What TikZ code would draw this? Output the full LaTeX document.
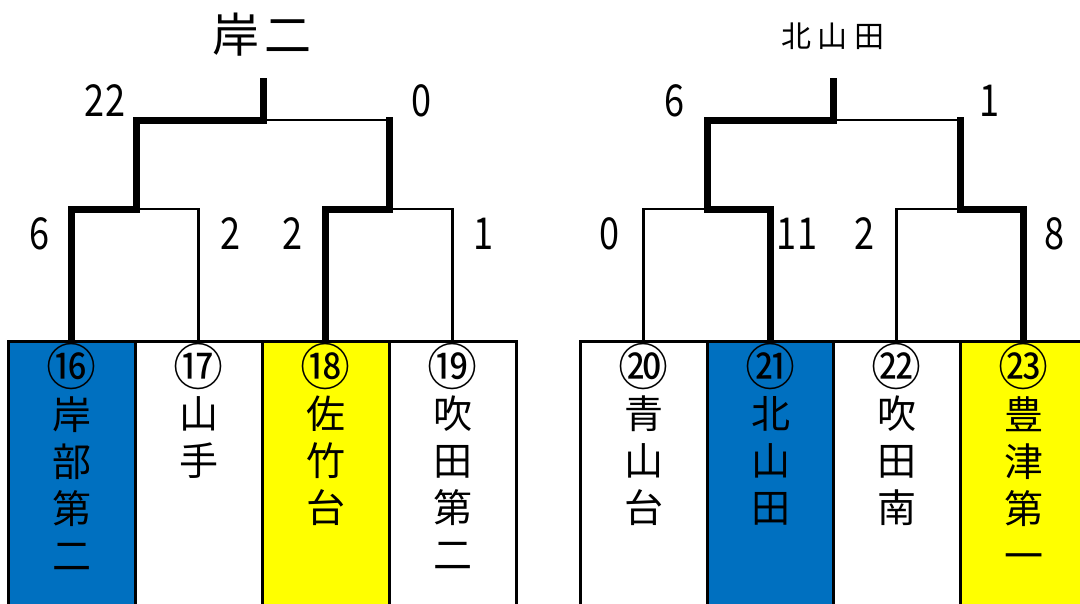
\documentclass[tikz,border=0pt]{standalone}
\usepackage{fontspec}
\usepackage{graphicx}
\setmainfont{Noto Sans CJK JP}
\definecolor{kblue}{RGB}{0,112,192}
\definecolor{kyel}{RGB}{255,255,0}
\newcommand{\sqz}[1]{\scalebox{0.82}[1]{#1}}
\begin{document}
\begin{tikzpicture}[x=1pt,y=-1pt,
  team/.style={draw=black, line width=3pt, minimum width=127pt, minimum height=280pt, anchor=north west, inner sep=0pt, outer sep=0pt},
  teamtxt/.style={anchor=north, align=center, inner sep=0pt, font=\fontsize{39}{47}\selectfont},
  circnum/.style={inner sep=0pt, font=\fontsize{50}{50}\selectfont},
  score/.style={inner sep=0pt, font=\fontsize{44}{44}\selectfont},
  win/.style={line width=7pt},
  lose/.style={line width=2.2pt},
]
\useasboundingbox (0,0) rectangle (1080,603);
\fill[white] (0,0) rectangle (1080,603);

% ---------- boxes ----------
\node[team, fill=kblue] (b16) at (8,341) {};
\node[team, fill=white] (b17) at (135,341) {};
\node[team, fill=kyel]  (b18) at (262,341) {};
\node[team, fill=white] (b19) at (389,341) {};
\node[team, fill=white] (b20) at (580,341) {};
\node[team, fill=kblue] (b21) at (707,341) {};
\node[team, fill=white] (b22) at (833,341) {};
\node[team, fill=kyel]  (b23) at (960,341) {};

% ---------- entry numbers ----------
\node[circnum] (c16) at ([yshift=-25pt]b16.north) {⑯};
\node[circnum] (c17) at ([yshift=-25pt]b17.north) {⑰};
\node[circnum] (c18) at ([yshift=-25pt]b18.north) {⑱};
\node[circnum] (c19) at ([yshift=-25pt]b19.north) {⑲};
\node[circnum] (c20) at ([yshift=-25pt]b20.north) {⑳};
\node[circnum] (c21) at ([yshift=-25pt]b21.north) {㉑};
\node[circnum] (c22) at ([yshift=-25pt]b22.north) {㉒};
\node[circnum] (c23) at ([yshift=-25pt]b23.north) {㉓};

% ---------- team names ----------
\node[teamtxt] (t16) at ([yshift=-55pt]b16.north) {岸\\部\\第\\二};
\node[teamtxt] (t17) at ([yshift=-55pt]b17.north) {山\\手};
\node[teamtxt] (t18) at ([yshift=-55pt]b18.north) {佐\\竹\\台};
\node[teamtxt] (t19) at ([yshift=-55pt]b19.north) {吹\\田\\第\\二};
\node[teamtxt] (t20) at ([yshift=-55pt]b20.north) {青\\山\\台};
\node[teamtxt] (t21) at ([yshift=-55pt]b21.north) {北\\山\\田};
\node[teamtxt] (t22) at ([yshift=-55pt]b22.north) {吹\\田\\南};
\node[teamtxt] (t23) at ([yshift=-55pt]b23.north) {豊\\津\\第\\一};

% ---------- left bracket ----------
\coordinate (m1) at (136,209);
\coordinate (m2) at (389,209);
\coordinate (f1) at (263,120);
\coordinate (top1) at (263,78);
\draw[lose] (b17.north) |- (m1);
\draw[lose] (b19.north) |- (m2);
\draw[lose] (f1) -| (m2);
\draw[win] (b16.north) |- (m1) |- (f1) -- (top1);
\draw[win] (b18.north) |- (m2) -- ([yshift=3.5pt]m2 |- f1);

% ---------- right bracket ----------
\coordinate (m3) at (707,209);
\coordinate (m4) at (960,209);
\coordinate (f2) at (833,120);
\coordinate (top2) at (833,78);
\draw[lose] (b20.north) |- (m3);
\draw[lose] (b22.north) |- (m4);
\draw[lose] (f2) -| (m4);
\draw[win] (b21.north) |- (m3) |- (f2) -- (top2);
\draw[win] (b23.north) |- (m4) -- ([yshift=3.5pt]m4 |- f2);

% ---------- titles ----------
\node[inner sep=0pt, font=\fontsize{47}{47}\selectfont] (w1) at (262,35) {岸\hspace{5pt}二};
\node[inner sep=0pt, font=\fontsize{30}{30}\selectfont] (w2) at (833,36) {北\hspace{7pt}山\hspace{7pt}田};

% ---------- scores ----------
\node[score] (s1) at (105,101) {\sqz{22}};
\node[score] (s2) at (422,101) {\sqz{0}};
\node[score] (s3) at (40,234) {\sqz{6}};
\node[score] (s4) at (231,234) {\sqz{2}};
\node[score] (s5) at (293,234) {\sqz{2}};
\node[score] (s6) at (484,234) {\sqz{1}};
\node[score] (s7) at (675,101) {\sqz{6}};
\node[score] (s8) at (990,101) {\sqz{1}};
\node[score] (s9) at (610,234) {\sqz{0}};
\node[score] (s10) at (797,234) {\sqz{11}};
\node[score] (s11) at (865,234) {\sqz{2}};
\node[score] (s12) at (1055,234) {\sqz{8}};
\end{tikzpicture}
\end{document}
